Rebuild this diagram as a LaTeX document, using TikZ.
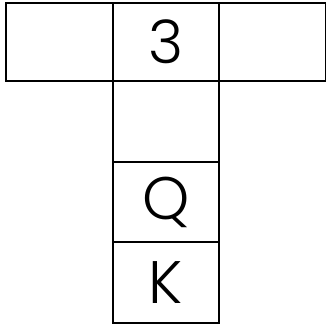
\documentclass[tikz,border=0pt]{standalone}
\usepackage{fontspec}
\setmainfont{Poppins}[UprightFont=* Light]
\begin{document}
\begin{tikzpicture}[x=1pt,y=1pt,
  cell/.style={draw=black, line width=2pt, inner sep=0pt, font=\fontsize{60}{60}\selectfont},
  toprow/.style={cell, minimum height=78pt},
  colcell/.style={cell, minimum height=80.5pt, minimum width=106pt}]
\useasboundingbox (0,0) rectangle (326,-325);
\node[toprow, minimum width=107pt] (l) at (59.5,-42) {};
\node[toprow, minimum width=106pt] (m) at (166,-42) {3};
\node[toprow, minimum width=107pt] (r) at (272.5,-42) {};
\node[colcell] (c1) at (166,-121.5) {};
\node[colcell] (c2) at (166,-202) {Q};
\node[colcell] (c3) at (166,-282.5) {K};
\end{tikzpicture}
\end{document}
